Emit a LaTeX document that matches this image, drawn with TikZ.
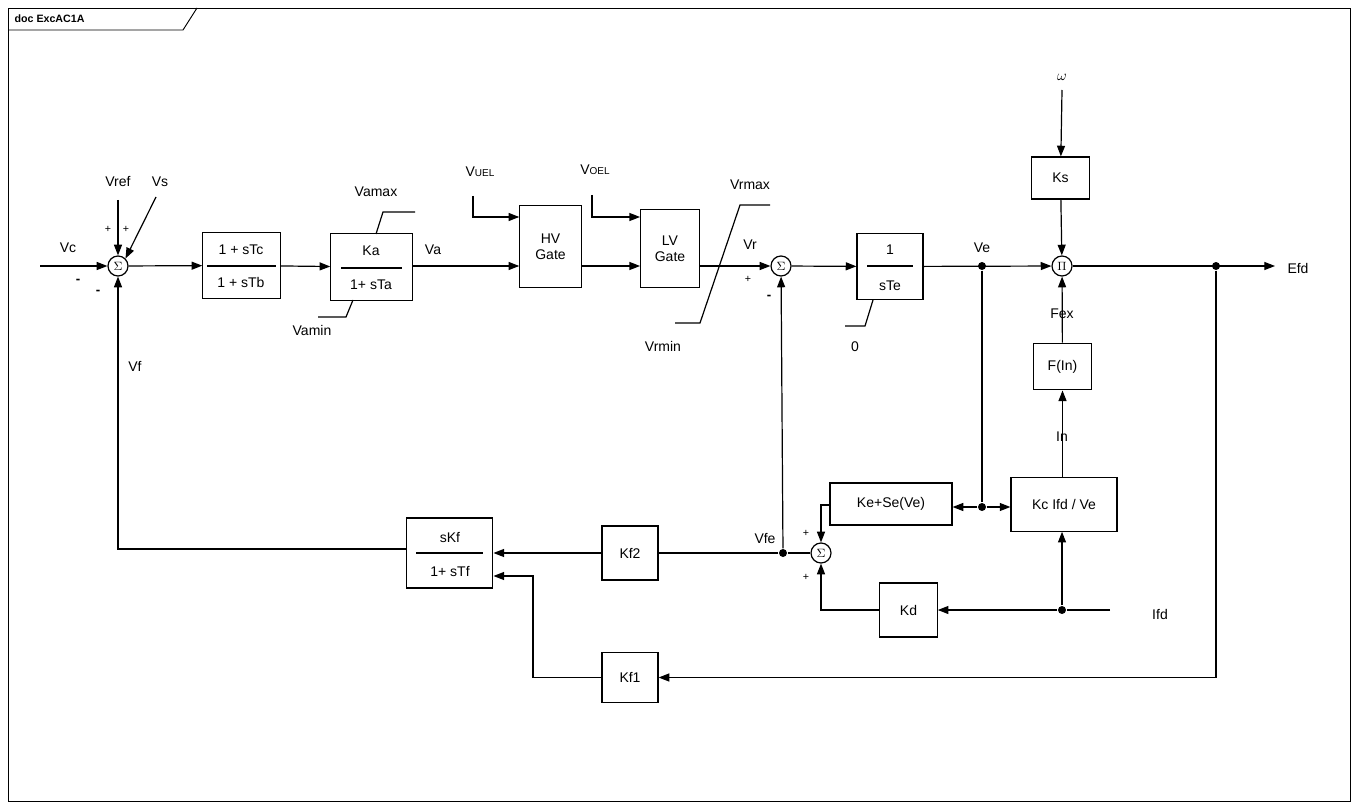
\documentclass[tikz,border=0pt]{standalone}
\usepackage{fontspec}
\setmainfont{Liberation Sans}
\usetikzlibrary{arrows.meta}
\begin{document}
\begin{tikzpicture}[x=0.75pt,y=-0.75pt,
  line width=0.9pt,
  blk/.style={draw,rectangle,inner sep=0pt,font=\fontsize{10.5}{12}\selectfont},
  sumn/.style={draw,circle,minimum size=15pt,inner sep=0pt,font=\fontsize{9}{10}\rmfamily},
  lbl/.style={font=\fontsize{10.5}{12}\selectfont,inner sep=0pt},
  sgn/.style={font=\fontsize{8}{9}\selectfont,inner sep=0pt},
  ar/.style={-{Triangle[length=8pt,width=6pt]}},
  dot/.style={circle,fill,inner sep=0pt,minimum size=6pt}]
\useasboundingbox (0,0) rectangle (1358,809);
\draw[line width=0.7pt] (8,8) rectangle (1350,801);
\draw[line width=0.7pt] (8,30) -- (183,30) -- (197,8);
\node[anchor=west,inner sep=0pt,font=\fontsize{8}{9}\selectfont\bfseries] at (14,19) {doc ExcAC1A};
% sum1
\node[sumn] (s1) at (118,266) {$\Sigma$};
\coordinate (vcin) at (40,266);
\draw[ar] (vcin) -- (s1);
\node[lbl] at (68,248) {Vc};
\node[sgn,font=\bfseries] at (78,281) {-};
\node[sgn,font=\bfseries] at (98,292) {-};
\node[lbl] (vref) at (118,182) {Vref};
\coordinate (vreft) at (118,200);
\draw[ar] (vreft) -- (s1);
\node[lbl] at (160,182) {Vs};
\coordinate (vst) at (156,197);
\draw[ar] (vst) -- (s1.north east);
\node[sgn] at (108,229) {+};
\node[sgn] at (126,229) {+};
% lead lag
\node[blk,minimum width=58pt,minimum height=49pt] (b1) at (241.5,265.5) {};
\draw (207,266) -- (276,266);
\node[lbl] at (241,250) {1 + sTc};
\node[lbl] at (241,282) {1 + sTb};
\draw[ar] (s1) -- (b1);
% Ka
\node[blk,minimum width=61pt,minimum height=50pt] (ka) at (371.5,267) {};
\draw (341,268) -- (402,268);
\node[lbl] at (371,251) {Ka};
\node[lbl] at (371,285) {1+ sTa};
\draw[ar] (b1) -- (ka);
\draw (376,234) -- (383,212) -- (415,212);
\node[lbl] at (376,192) {Vamax};
\draw (353,300) -- (346,317) -- (318,317);
\node[lbl] at (312,330) {Vamin};
\node[lbl] at (433,250) {Va};
% HV gate
\node[blk,minimum width=46pt,minimum height=62pt,align=center] (hv) at (550.5,246.5) {HV\\Gate};
\draw[ar] (ka.east |- 0,266) -- (hv.west |- 0,266);
\node[lbl] at (480,172) {V\fontsize{7.5}{8}\selectfont UEL};
\coordinate (vuel) at (473,196);
\draw[ar] (vuel) |- (hv.west |- 0,217);
% LV gate
\node[blk,minimum width=44pt,minimum height=59pt,align=center] (lv) at (670,248.5) {LV\\Gate};
\draw[ar] (hv.east |- 0,266) -- (lv.west |- 0,266);
\node[lbl] at (595,170) {V\fontsize{7.5}{8}\selectfont OEL};
\coordinate (voel) at (592,195);
\draw[ar] (voel) |- (lv.west |- 0,217);
% Vr limit
\draw (675,323) -- (700,323) -- (740,205) -- (770,205);
\node[lbl] at (750,185) {Vrmax};
\node[lbl] at (663,346) {Vrmin};
\node[lbl] at (750,245) {Vr};
\node[sgn] at (748,279) {+};
% sum2
\node[sumn] (s2) at (781,266) {$\Sigma$};
\draw[ar] (lv.east |- 0,266) -- (s2);
\node[sgn,font=\bfseries] at (769,297) {-};
% 1/sTe
\node[blk,minimum width=49.5pt,minimum height=50pt] (te) at (890,266.5) {};
\draw (867,266) -- (913,266);
\node[lbl] at (890,250) {1};
\node[lbl] at (890,286) {sTe};
\draw[ar] (s2) -- (te);
\draw (873,300) -- (865,326) -- (845,326);
\node[lbl] at (855,347) {0};
\node[lbl] at (982,248) {Ve};
\node[dot] (dve) at (982,266) {};
% Pi
\node[sumn] (pi) at (1062,266) {$\Pi$};
\draw[ar] (te) -- (pi);
\node[blk,minimum width=43pt,minimum height=31.5pt] (ks) at (1060.5,178) {Ks};
\node[lbl] at (1062,77) {$\omega$};
\coordinate (om) at (1062,90);
\draw[ar] (om) -- (ks);
\draw[ar] (ks) -- (pi);
\node[dot] (defd) at (1216,266) {};
\coordinate (efdo) at (1275,266);
\draw[ar] (pi) -- (efdo);
\node[lbl] at (1298,268) {Efd};
% F(In)
\node[blk,minimum width=43pt,minimum height=35pt] (fin) at (1062.5,366.5) {F(In)};
\draw[ar] (fin) -- (pi);
\node[lbl] at (1062,314) {Fex};
\node[blk,minimum width=79.5pt,minimum height=40pt] (kc) at (1064,504.5) {Kc Ifd / Ve};
\draw[ar] (kc.north -| fin) -- (fin);
\node[lbl] at (1062,437) {In};
% Ke
\node[blk,minimum width=91.5pt,minimum height=31.5pt] (ke) at (891,504) {Ke+Se(Ve)};
\node[dot] (dke) at (982,507) {};
\draw (dve) -- (dke);
\draw[ar] (dke) -- (ke.east |- 0,507);
\draw[ar] (dke) -- (kc.west |- 0,507);
% sum3
\node[sumn] (s3) at (821,553) {$\Sigma$};
\draw[ar] (ke.west |- 0,505) -| (s3);
\node[sgn] at (806,533) {+};
\node[sgn] at (806,577) {+};
\node[dot] (dvfe) at (783,553) {};
\draw (s3) -- (dvfe);
\draw[ar] (dvfe) -- (s2);
\node[lbl] at (765,538) {Vfe};
% Kd
\node[blk,minimum width=43pt,minimum height=40.5pt] (kd) at (908.5,610) {Kd};
\node[dot] (difd) at (1062,610) {};
\coordinate (ifdin) at (1110,610);
\node[lbl] at (1160,614) {Ifd};
\draw (ifdin) -- (difd);
\draw[ar] (difd) -- (kd);
\draw[ar] (difd) -- (kc.south -| difd);
\draw[ar] (kd) -| (s3);
% Kf2 and sKf
\node[blk,minimum width=42pt,minimum height=40.5pt] (kf2) at (630,553) {Kf2};
\draw (dvfe) -- (kf2);
\node[blk,minimum width=65pt,minimum height=52.5pt] (kf) at (449.5,553) {};
\draw (416,553) -- (483,553);
\node[lbl] at (450,537) {sKf};
\node[lbl] at (450,571) {1+ sTf};
\draw[ar] (kf2) -- (kf);
\draw[ar] (kf.west |- 0,549) -| (s1);
\node[lbl] at (135,366) {Vf};
% Kf1
\node[blk,minimum width=42pt,minimum height=38pt] (kf1) at (630,677.5) {Kf1};
\draw[ar] (defd) |- (kf1);
\draw[ar] (kf1) -| (533,576) -- (kf.east |- 0,576);
\end{tikzpicture}
\end{document}
